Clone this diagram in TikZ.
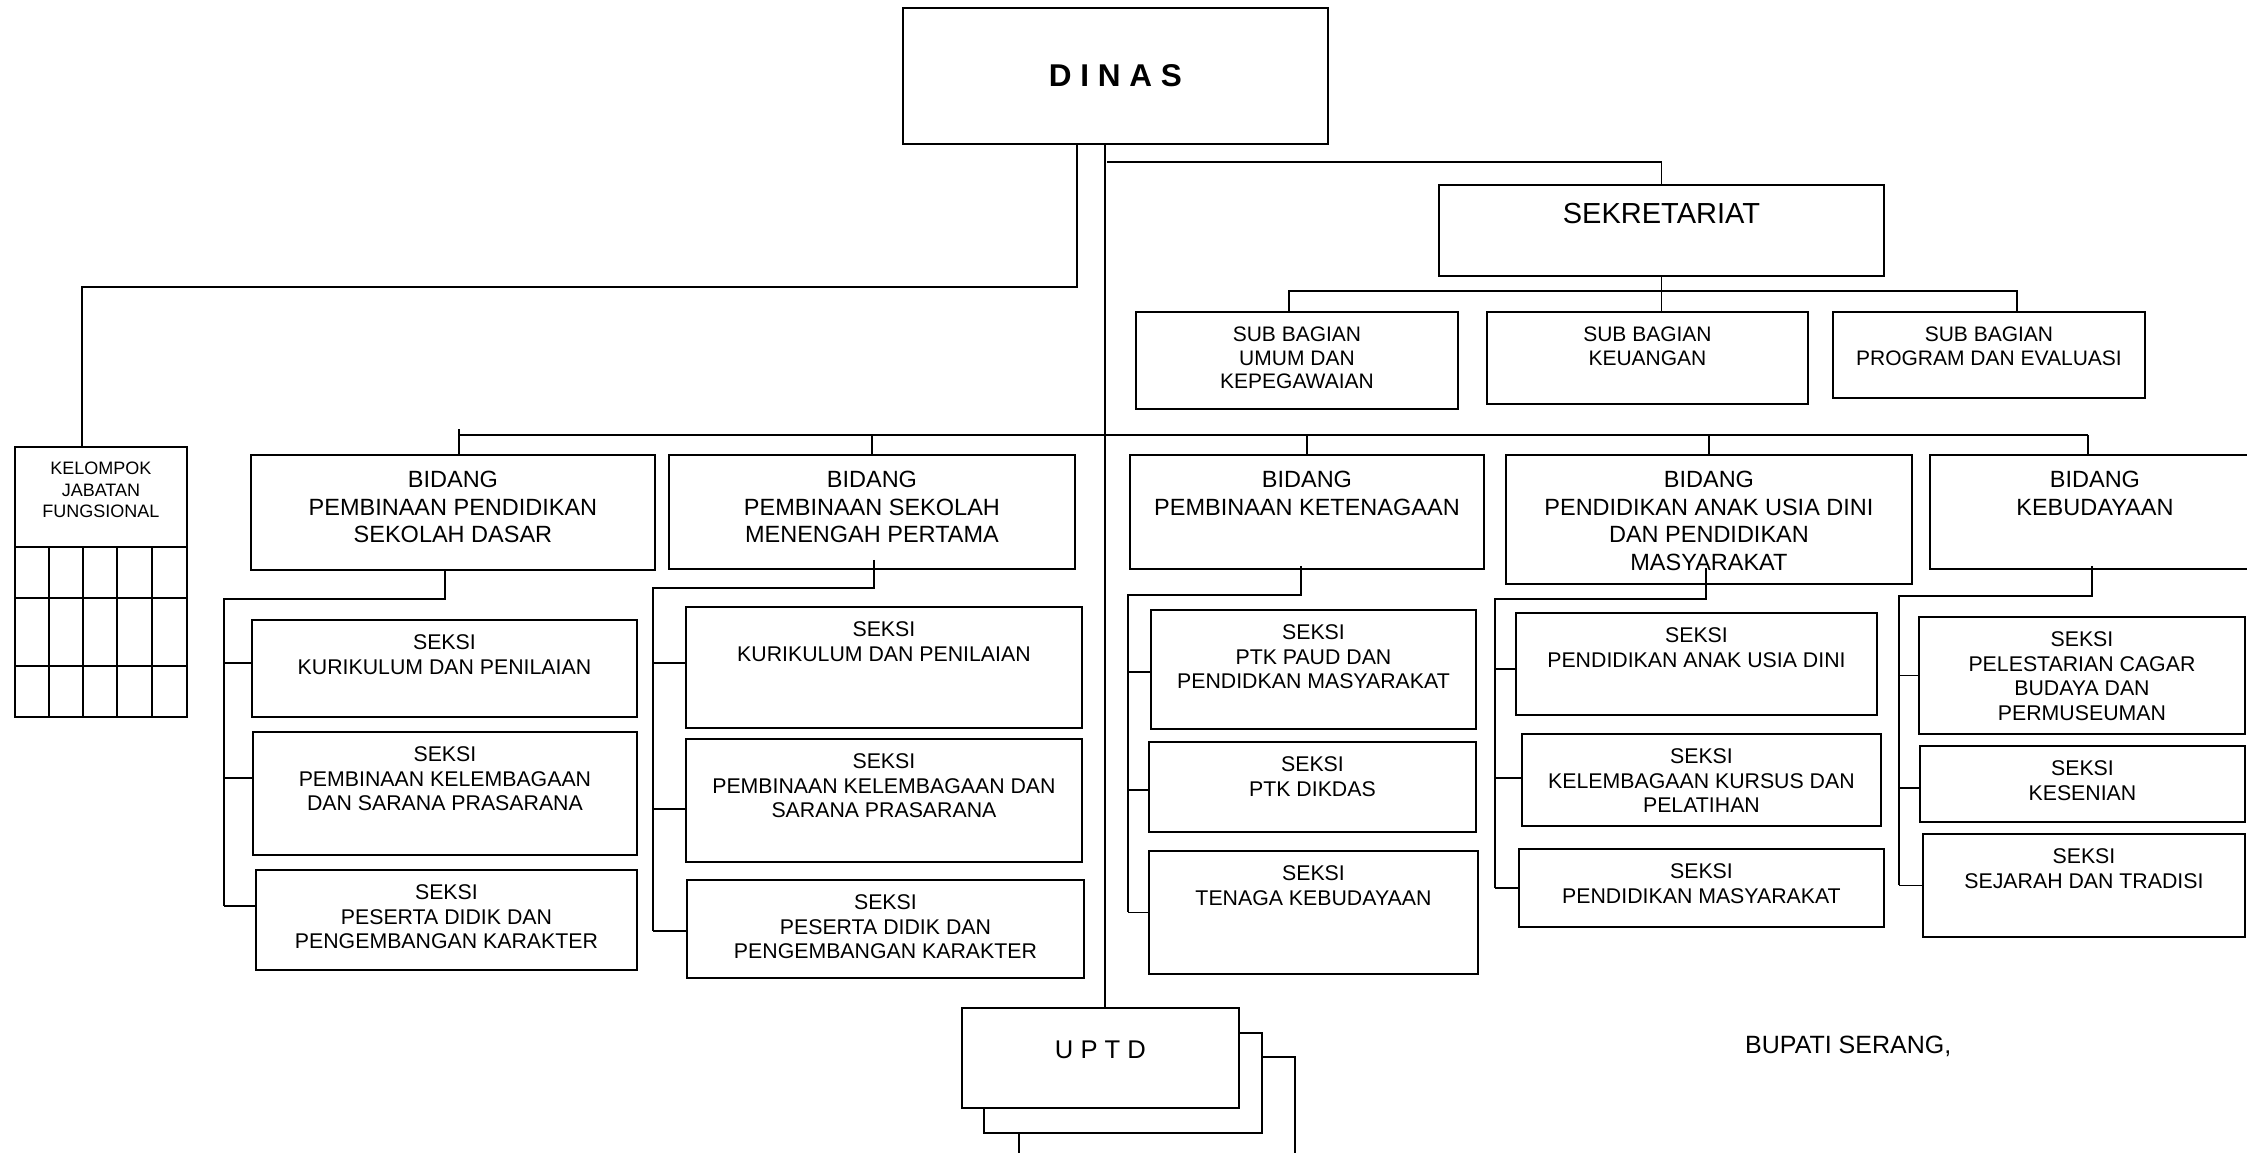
\documentclass[tikz,border=0pt]{standalone}
\usepackage{fontspec}
\setmainfont{Liberation Sans}
\usetikzlibrary{positioning}
\tikzset{
  box/.style={draw,line width=1.9pt,fill=white,inner sep=0pt,anchor=north west},
  link/.style={line width=1.8pt},
  bidtxt/.style={font=\fontsize{23.5}{27.6}\selectfont,align=center,anchor=north,inner sep=0pt},
  sektxt/.style={font=\fontsize{21.3}{24.7}\selectfont,align=center,anchor=north,inner sep=0pt},
  subtxt/.style={font=\fontsize{21}{23.3}\selectfont,align=center,anchor=north,inner sep=0pt},
  kjftxt/.style={font=\fontsize{18}{21.5}\selectfont,align=center,anchor=north,inner sep=0pt}
}
\begin{document}
\begin{tikzpicture}[x=1pt,y=-1pt]
\useasboundingbox (0,0) rectangle (2247,1153);
\node[box,minimum width=425,minimum height=136,font=\fontsize{31.5}{36}\selectfont\bfseries] (dinas) at (902,7) {D I N A S};
\node[box,minimum width=445,minimum height=91] (sek) at (1438,184) {};
\node[font=\fontsize{29}{33}\selectfont,anchor=north,inner sep=0pt,below=19pt of sek.north] (sekt) {SEKRETARIAT};
\node[box,minimum width=322,minimum height=97] (sub1) at (1135,311) {};
\node[subtxt,below=16pt of sub1.north] (sub1t) {SUB BAGIAN\\UMUM DAN\\KEPEGAWAIAN};
\node[box,minimum width=321,minimum height=92] (sub2) at (1486,311) {};
\node[subtxt,below=16pt of sub2.north] (sub2t) {SUB BAGIAN\\KEUANGAN};
\node[box,minimum width=312,minimum height=86] (sub3) at (1832,311) {};
\node[subtxt,below=16pt of sub3.north] (sub3t) {SUB BAGIAN\\PROGRAM DAN EVALUASI};
\node[box,minimum width=172,minimum height=270] (kjf) at (14,446) {};
\node[kjftxt,below=16pt of kjf.north] (kjft) {KELOMPOK\\JABATAN\\FUNGSIONAL};
\foreach \gy in {547,598,666} \draw[link] (14,\gy) -- (186,\gy);
\foreach \gx in {49,83,117,152} \draw[link] (\gx,547) -- (\gx,716);
\node[box,minimum width=404,minimum height=115] (bd1) at (250,454) {};
\node[bidtxt,below=17pt of bd1.north] (bd1t) {BIDANG\\PEMBINAAN PENDIDIKAN\\SEKOLAH DASAR};
\node[box,minimum width=406,minimum height=114] (bd2) at (668,454) {};
\node[bidtxt,below=17pt of bd2.north] (bd2t) {BIDANG\\PEMBINAAN SEKOLAH\\MENENGAH PERTAMA};
\node[box,minimum width=354,minimum height=114] (bd3) at (1129,454) {};
\node[bidtxt,below=17pt of bd3.north] (bd3t) {BIDANG\\PEMBINAAN KETENAGAAN};
\node[box,minimum width=406,minimum height=129] (bd4) at (1505,454) {};
\node[bidtxt,below=17pt of bd4.north] (bd4t) {BIDANG\\PENDIDIKAN ANAK USIA DINI\\DAN PENDIDIKAN\\MASYARAKAT};
\node[box,minimum width=330,minimum height=114] (bd5) at (1929,454) {};
\node[bidtxt,below=17pt of bd5.north] (bd5t) {BIDANG\\KEBUDAYAAN};
\node[box,minimum width=385,minimum height=97] (s11) at (251,619) {};
\node[sektxt,below=15.5pt of s11.north] (s11t) {SEKSI\\KURIKULUM DAN PENILAIAN};
\node[box,minimum width=384,minimum height=123] (s12) at (252,731) {};
\node[sektxt,below=15.5pt of s12.north] (s12t) {SEKSI\\PEMBINAAN KELEMBAGAAN\\DAN SARANA PRASARANA};
\node[box,minimum width=381,minimum height=100] (s13) at (255,869) {};
\node[sektxt,below=15.5pt of s13.north] (s13t) {SEKSI\\PESERTA DIDIK DAN\\PENGEMBANGAN KARAKTER};
\node[box,minimum width=396,minimum height=121] (s21) at (685,606) {};
\node[sektxt,below=15.5pt of s21.north] (s21t) {SEKSI\\KURIKULUM DAN PENILAIAN};
\node[box,minimum width=396,minimum height=123] (s22) at (685,738) {};
\node[sektxt,below=15.5pt of s22.north] (s22t) {SEKSI\\PEMBINAAN KELEMBAGAAN DAN\\SARANA PRASARANA};
\node[box,minimum width=397,minimum height=98] (s23) at (686,879) {};
\node[sektxt,below=15.5pt of s23.north] (s23t) {SEKSI\\PESERTA DIDIK DAN\\PENGEMBANGAN KARAKTER};
\node[box,minimum width=325,minimum height=119] (s31) at (1150,609) {};
\node[sektxt,below=15.5pt of s31.north] (s31t) {SEKSI\\PTK PAUD DAN\\PENDIDKAN MASYARAKAT};
\node[box,minimum width=327,minimum height=90] (s32) at (1148,741) {};
\node[sektxt,below=15.5pt of s32.north] (s32t) {SEKSI\\PTK DIKDAS};
\node[box,minimum width=329,minimum height=123] (s33) at (1148,850) {};
\node[sektxt,below=15.5pt of s33.north] (s33t) {SEKSI\\TENAGA KEBUDAYAAN};
\node[box,minimum width=361,minimum height=102] (s41) at (1515,612) {};
\node[sektxt,below=15.5pt of s41.north] (s41t) {SEKSI\\PENDIDIKAN ANAK USIA DINI};
\node[box,minimum width=359,minimum height=92] (s42) at (1521,733) {};
\node[sektxt,below=15.5pt of s42.north] (s42t) {SEKSI\\KELEMBAGAAN KURSUS DAN\\PELATIHAN};
\node[box,minimum width=365,minimum height=78] (s43) at (1518,848) {};
\node[sektxt,below=15.5pt of s43.north] (s43t) {SEKSI\\PENDIDIKAN MASYARAKAT};
\node[box,minimum width=326,minimum height=117] (s51) at (1918,616) {};
\node[sektxt,below=15.5pt of s51.north] (s51t) {SEKSI\\PELESTARIAN CAGAR\\BUDAYA DAN\\PERMUSEUMAN};
\node[box,minimum width=325,minimum height=76] (s52) at (1919,745) {};
\node[sektxt,below=15.5pt of s52.north] (s52t) {SEKSI\\KESENIAN};
\node[box,minimum width=322,minimum height=103] (s53) at (1922,833) {};
\node[sektxt,below=15.5pt of s53.north] (s53t) {SEKSI\\SEJARAH DAN TRADISI};
\node[box,minimum width=276,minimum height=130] (uptdc) at (1018,1056) {};
\node[box,minimum width=278,minimum height=100] (uptdb) at (983,1032) {};
\node[box,minimum width=277,minimum height=100] (uptd) at (961,1007) {};
\node[font=\fontsize{25.6}{30}\selectfont,inner sep=0pt] (uptdt) at ([yshift=8pt]uptd.center) {U P T D};
\node[font=\fontsize{25}{30}\selectfont,anchor=base west,inner sep=0pt] (bupati) at (1745,1053) {BUPATI SERANG,};
\coordinate (spine) at (1105,0);
\draw[link] (dinas.south -| spine) -- (uptd.north -| spine);
\coordinate (kjbend) at (1077,287);
\draw[link] (dinas.south -| kjbend) -- (kjbend) -| ([xshift=-19pt]kjf.north);
\coordinate (sekbend) at (1107,162);
\draw[link] (sekbend) -| (sek.north);
\coordinate (sbl) at (1289,291);
\coordinate (sbr) at (2017,291);
\draw[link] (sek.south) -- (sek.south |- sub2.north);
\draw[link] (sbl |- sub1.north) -- (sbl) -- (sbr) -- (sbr |- sub3.north);
\coordinate (bl) at (459,435);
\coordinate (br) at (2088,435);
\draw[link] (bl) -- (br);
\draw[link] ([yshift=6pt]bl) -- (bl |- bd1.north);
\draw[link] (bl -| bd2.north) -- (bd2.north);
\draw[link] (bl -| bd3.north) -- (bd3.north);
\draw[link,xshift=-9pt] (bl -| bd4.north) -- (bd4.north);
\draw[link] (br) -- (br |- bd5.north);
\coordinate (g1d) at (445,599);
\coordinate (g1) at (224,599);
\draw[link] (g1d |- bd1.south) -- (g1d) -- (g1) -- ([yshift=14pt]s13.west -| g1);
\foreach \s/\dy in {s11/5.5,s12/15.5,s13/14} \draw[link] ([yshift=\dy pt]\s.west -| g1) -- ([yshift=\dy pt]\s.west);
\coordinate (g2d) at (874,588);
\coordinate (g2) at (653,588);
\draw[link] ([yshift=10pt]g2d |- bd2.south) -- (g2d) -- (g2) -- ([yshift=-2pt]s23.west -| g2);
\foreach \s/\dy in {s21/4.5,s22/-8.5,s23/-2} \draw[link] ([yshift=\dy pt]\s.west -| g2) -- ([yshift=\dy pt]\s.west);
\coordinate (g3d) at (1301,595);
\coordinate (g3) at (1128,595);
\draw[link] ([yshift=4pt]g3d |- bd3.south) -- (g3d) -- (g3) -- (s33.west -| g3);
\foreach \s/\dy in {s31/-2.5,s32/-3,s33/0} \draw[link] ([yshift=\dy pt]\s.west -| g3) -- ([yshift=\dy pt]\s.west);
\coordinate (g4d) at (1706,599);
\coordinate (g4) at (1495,599);
\draw[link] ([yshift=17pt]g4d |- bd4.south) -- (g4d) -- (g4) -- (s43.west -| g4);
\foreach \s/\dy in {s41/-5,s42/2,s43/0} \draw[link] ([yshift=\dy pt]\s.west -| g4) -- ([yshift=\dy pt]\s.west);
\coordinate (g5d) at (2092,596);
\coordinate (g5) at (1899,596);
\draw[link] ([yshift=4pt]g5d |- bd5.south) -- (g5d) -- (g5) -- (s53.west -| g5);
\foreach \s/\dy in {s51/0,s52/-4,s53/0} \draw[link] ([yshift=\dy pt]\s.west -| g5) -- ([yshift=\dy pt]\s.west);
\end{tikzpicture}
\end{document}
